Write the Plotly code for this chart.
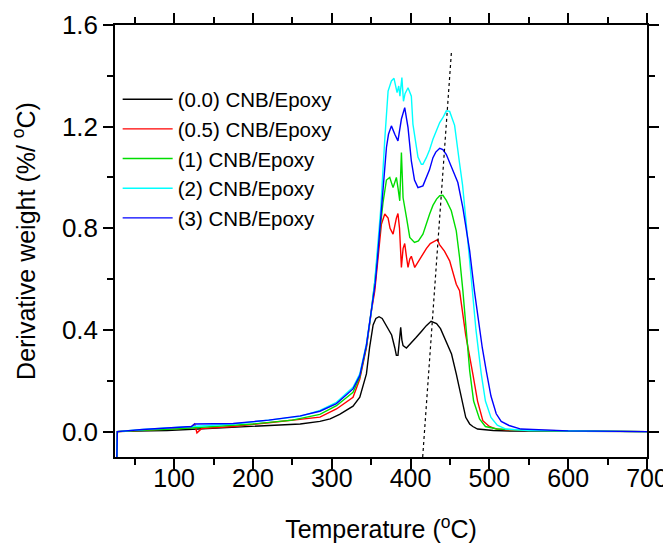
import plotly.graph_objects as go

# ---------------- data ----------------
names = ["(0.0) CNB/Epoxy", "(0.5) CNB/Epoxy", "(1) CNB/Epoxy", "(2) CNB/Epoxy", "(3) CNB/Epoxy"]
colors = ["#000000", "#ff0000", "#00dd00", "#00ffff", "#0000ff"]

T_00 = [26, 28, 50, 91, 130, 175, 220, 260, 285, 298, 310, 320, 327, 335.6, 340, 344, 348, 352.5,
        356, 360, 364, 367, 372, 376, 380, 382, 384, 386, 387.5, 389, 390.5, 394.7, 400, 407, 414,
        420, 426, 433, 438, 443, 448, 452, 458, 464, 470, 475, 479, 485, 492, 505, 530, 600, 700]
v_00 = [-0.3, 0.0, 0.002, 0.004, 0.01, 0.017, 0.022, 0.03, 0.04, 0.05, 0.068, 0.085, 0.10, 0.135,
        0.18, 0.227, 0.33, 0.42, 0.445, 0.452, 0.445, 0.43, 0.40, 0.38, 0.33, 0.30, 0.30, 0.35, 0.41,
        0.36, 0.338, 0.329, 0.345, 0.37, 0.395, 0.417, 0.434, 0.425, 0.405, 0.371, 0.33, 0.305, 0.227,
        0.135, 0.056, 0.03, 0.02, 0.01, 0.007, 0.004, 0.002, 0.001, 0.0]

T_05 = [26, 28, 60, 100, 120, 126, 129, 135, 175, 220, 260, 285, 306, 327, 335.6, 344, 350.4, 354.6,
        358, 363, 367.3, 371.5, 374, 377.8, 382, 384, 386, 388.4, 390.5, 392.6, 394.7, 396.8, 399, 401,
        405.3, 410, 415.7, 420, 425, 430.5, 434, 437, 443, 449.6, 458, 462.2, 470, 479, 485, 491.7, 500,
        508.7, 530, 700]
v_05 = [-0.3, 0.0, 0.005, 0.01, 0.014, 0.03, -0.005, 0.012, 0.02, 0.035, 0.05, 0.057, 0.089, 0.135,
        0.207, 0.33, 0.476, 0.554, 0.66, 0.816, 0.856, 0.84, 0.80, 0.777, 0.84, 0.858, 0.80, 0.646, 0.72,
        0.74, 0.69, 0.646, 0.679, 0.69, 0.646, 0.67, 0.698, 0.72, 0.74, 0.75, 0.755, 0.735, 0.71, 0.672,
        0.58, 0.554, 0.38, 0.227, 0.12, 0.043, 0.02, 0.01, 0.005, 0.0]

T_1 = [26, 28, 60, 100, 150, 200, 250, 285, 306, 327, 335.6, 344, 350, 355, 360, 365, 369.4, 373.6,
       377.8, 382, 384, 386.3, 388.4, 390.5, 394.7, 399, 405, 410, 415.7, 420, 424.2, 428.4, 433, 437,
       441, 445.4, 451.7, 458, 462.2, 466.4, 470, 475, 480, 487.5, 495, 510, 550, 700]
v_1 = [-0.3, 0.0, 0.005, 0.01, 0.02, 0.03, 0.045, 0.068, 0.102, 0.155, 0.215, 0.335, 0.47, 0.60, 0.76,
       0.90, 0.99, 1.0, 0.96, 1.0, 0.96, 0.908, 1.098, 0.92, 0.845, 0.764, 0.744, 0.75, 0.777, 0.82,
       0.856, 0.89, 0.915, 0.928, 0.93, 0.91, 0.869, 0.79, 0.685, 0.554, 0.42, 0.24, 0.12, 0.05, 0.02,
       0.01, 0.004, 0.0]

T_2 = [26, 28, 60, 100, 130, 175, 220, 260, 285, 306, 327, 335.6, 344, 350.4, 354.6, 357.8, 362,
       367.3, 371.5, 375.7, 379, 382.9, 385, 386.5, 389, 391, 393, 396.8, 401, 403, 407.4, 409.4, 413.7,
       415.7, 420, 424.3, 428.4, 432.7, 437, 441, 445.4, 449.6, 455.9, 462, 466, 470, 474, 478, 483,
       489.7, 495, 502, 510, 521, 550, 700]
v_2 = [-0.3, 0.0, 0.008, 0.015, 0.022, 0.03, 0.045, 0.06, 0.083, 0.115, 0.174, 0.227, 0.345, 0.476,
       0.59, 0.70, 0.87, 1.15, 1.34, 1.38, 1.39, 1.334, 1.36, 1.32, 1.393, 1.30, 1.33, 1.353, 1.32, 1.21,
       1.12, 1.08, 1.052, 1.052, 1.078, 1.11, 1.15, 1.183, 1.216, 1.235, 1.262, 1.26, 1.205, 1.06, 0.97,
       0.84, 0.71, 0.554, 0.40, 0.227, 0.12, 0.056, 0.025, 0.01, 0.004, 0.0]

T_3 = [26, 28, 60, 100, 122, 126, 175, 220, 260, 285, 306, 327, 335.6, 344, 350.4, 355, 358, 362,
       367.3, 369.4, 372, 375.7, 380, 384, 388.4, 392.6, 396.8, 401, 405, 409.4, 415.7, 420, 424, 428.4,
       432, 437, 441, 445.4, 453.7, 460, 466.4, 471, 475, 481, 486.7, 491, 496, 502, 508.7, 515, 525,
       540, 600, 700]
v_3 = [-0.3, 0.0, 0.008, 0.015, 0.02, 0.03, 0.032, 0.045, 0.062, 0.08, 0.11, 0.168, 0.22, 0.34, 0.47,
       0.58, 0.68, 0.84, 1.05, 1.118, 1.17, 1.203, 1.17, 1.144, 1.23, 1.275, 1.196, 1.065, 0.99, 0.96,
       0.967, 1.0, 1.03, 1.078, 1.10, 1.115, 1.11, 1.09, 1.03, 0.98, 0.88, 0.78, 0.711, 0.554, 0.42,
       0.33, 0.24, 0.14, 0.07, 0.04, 0.024, 0.01, 0.003, 0.0]

dotted_T = [415.4, 452.0]
dotted_v = [-0.1, 1.5]

x_ticks = [100, 200, 300, 400, 500, 600, 700]
y_ticks = [0.0, 0.4, 0.8, 1.2, 1.6]

# ---------------- figure ----------------
FONT = "Liberation Sans, Arial, sans-serif"
series = [(T_00, v_00), (T_05, v_05), (T_1, v_1), (T_2, v_2), (T_3, v_3)]

fig = go.Figure()
for (tx, vy), nm, c in zip(series, names, colors):
    fig.add_trace(go.Scatter(x=tx, y=vy, mode="lines", name=nm,
                             line=dict(color=c, width=1.4)))

fig.add_trace(go.Scatter(x=dotted_T, y=dotted_v, mode="lines", showlegend=False,
                         line=dict(color="black", width=1.2, dash="dot")))

axis_common = dict(showline=True, linecolor="black", linewidth=1.5, mirror="ticks",
                   ticks="outside", ticklen=10, tickwidth=1.5, tickcolor="black",
                   showgrid=False, zeroline=False, automargin=False)

fig.update_xaxes(range=[25, 700], tickvals=x_ticks,
                 tickfont=dict(family=FONT, size=25, color="black"),
                 ticklabelstandoff=-12,
                 minor=dict(dtick=50, tick0=0, ticks="outside", ticklen=6, tickwidth=1.5,
                            tickcolor="black", showgrid=False),
                 title=dict(text="Temperature (<sup>o</sup>C)", standoff=30,
                            font=dict(family=FONT, size=25, color="black")),
                 **axis_common)
fig.update_yaxes(range=[-0.1, 1.6], tickvals=y_ticks, tickformat=".1f",
                 tickfont=dict(family=FONT, size=26, color="black"),
                 minor=dict(dtick=0.2, tick0=0, ticks="outside", ticklen=6, tickwidth=1.5,
                            tickcolor="black", showgrid=False),
                 title=dict(text="Derivative weight (%/ <sup>o</sup>C)", standoff=20,
                            font=dict(family=FONT, size=25, color="black")),
                 **axis_common)

# the page adds an 8 px body margin, so the figure is 8 px smaller than the window
fig.update_layout(
    width=663, height=535,
    margin=dict(l=107, r=24, t=17, b=86),
    paper_bgcolor="white", plot_bgcolor="white",
    showlegend=True,
    legend=dict(x=0.005, y=0.874, xanchor="left", yanchor="top",
                font=dict(family=FONT, size=20.5, color="black"),
                bgcolor="rgba(0,0,0,0)", borderwidth=0,
                tracegroupgap=0, itemwidth=50),
)

fig.write_html("out.html")
